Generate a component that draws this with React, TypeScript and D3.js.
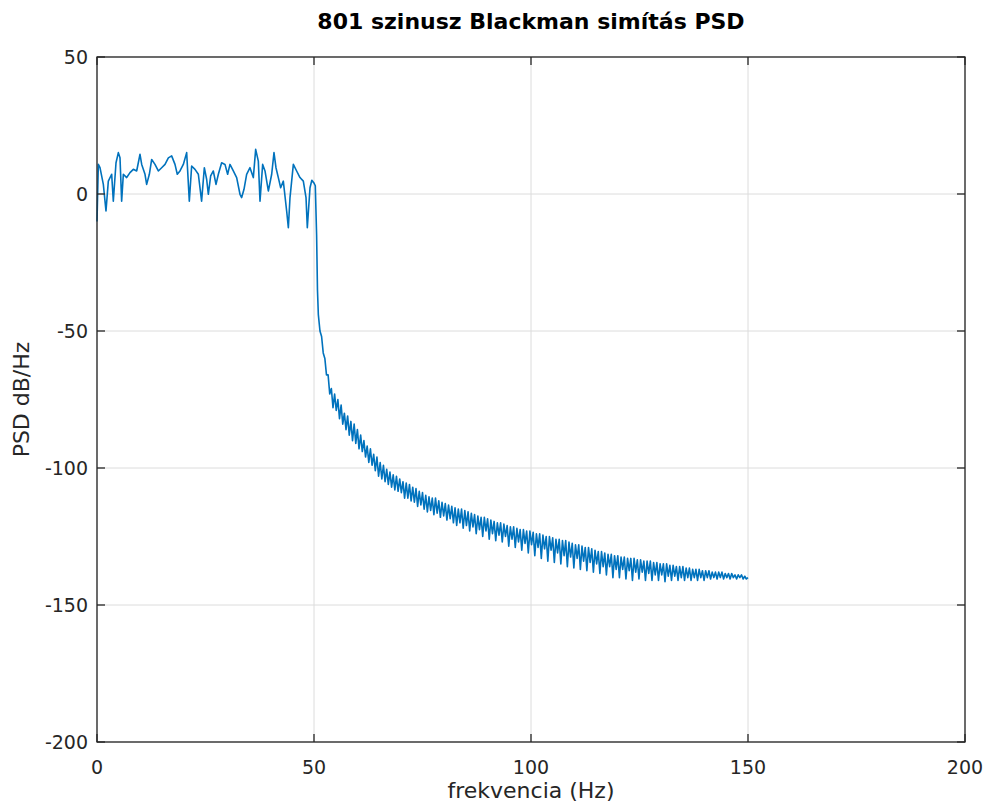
import React from "react";
import * as d3 from "d3";

const W = 986;
const H = 803;
const M = { left: 97, right: 21, top: 57, bottom: 61 };

const xTicks = [0, 50, 100, 150, 200];
const yTicks = [50, 0, -50, -100, -150, -200];

const titleText = "801 szinusz Blackman simítás PSD";
const xLabelText = "frekvencia (Hz)";
const yLabelText = "PSD dB/Hz";

// passband (irregular sampling)
const passFreq = [
  0, 0.31, 0.69, 1.46, 2.07, 2.61, 3.38, 3.76, 4.38, 4.92, 5.3, 5.68, 6.07, 6.84, 7.6, 8.37, 9.14, 9.91,
  10.3, 11.06, 11.44, 12.06, 12.6, 13.36, 14.13, 14.9, 15.67, 16.44, 17.2, 17.97, 18.5, 19.12, 19.89,
  20.66, 21.27, 21.81, 22.58, 23.35, 24.1, 24.73, 25.27, 25.65, 26.19, 26.8, 27.42, 27.96, 28.72, 29.49,
  30.1, 30.64, 31.41, 32.18, 32.95, 33.33, 33.87, 34.48, 35.25, 36.02, 36.56, 37.17, 37.56, 38.17, 38.71,
  39.48, 40.25, 40.78, 41.24, 41.78, 42.32, 42.93, 43.7, 44.09, 44.47, 45.24, 46.0, 46.77, 47.54, 48.16,
  48.46, 49.08, 49.5, 50.0, 50.3, 50.6, 50.8,
];
const passPsd = [
  -10, 10.8, 9.6, 3.5, -6.2, 4.7, 7.2, -2.6, 11.4, 15.1, 13.2, -2.6, 7.2, 6.0, 7.8, 9.0, 8.4, 14.5,
  10.8, 7.2, 3.5, 7.2, 12.6, 10.8, 8.4, 9.6, 10.8, 13.2, 13.9, 10.8, 7.2, 8.4, 10.8,
  15.1, -2.6, 10.2, 9.0, 7.2, -2.6, 9.6, 5.3, -0.1, 6.6, 8.4, 3.5, 7.2, 11.4, 10.8,
  7.2, 10.8, 8.4, 6.0, -0.1, -1.3, 1.7, 7.2, 9.6, 6.0, 16.3, 12.0, -2.6, 10.8, 8.4,
  1.1, 7.2, 15.1, 9.6, 6.0, 2.3, 4.7, -6.2, -12.3, -1.3, 10.8, 8.4, 6.0, 4.7, -1.3,
  -12.3, 2.3, 5.0, 4.0, 3.0, -15, -35,
];

// stopband, frequency bins of 0.375 Hz from 51 Hz to 150 Hz
const stopStart = 51;
const stopStep = 0.375;
const stopPsd = [
  -44, -50, -52, -58, -60, -66, -66, -73,
  -71, -78, -73, -79, -75, -82, -77, -84,
  -80, -86, -81, -88, -83, -90, -84, -91,
  -86, -93, -88, -94, -90, -96, -92, -98,
  -93, -99, -95, -101, -96, -103, -98, -104,
  -99, -105, -100.5, -106, -101.5, -107, -102.5, -108,
  -103, -108.5, -104, -109, -105, -111, -105.5, -111,
  -106, -112, -107, -112.5, -107.5, -114, -108.5, -113.5,
  -109, -115, -110, -116, -110.5, -115.5, -111, -117,
  -111, -116.5, -112, -118, -112.5, -117.5, -113, -119,
  -113.5, -118.5, -114, -120, -114.5, -121, -115, -120,
  -115, -122, -115.5, -121, -116, -123, -116.5, -121.5,
  -117, -124, -117.5, -122.5, -118, -125, -118, -123,
  -118.5, -126, -119, -124, -119.5, -126.5, -120, -124.5,
  -120, -127, -120.5, -125, -121, -128.5, -121.5, -126,
  -121.5, -129, -122, -127, -122.5, -130, -122.5, -127.5,
  -123, -131, -123, -128, -123.5, -132, -124, -129,
  -124, -133, -124.5, -129.5, -125, -134, -125, -130,
  -125.5, -134.5, -126, -131, -126, -135, -126.5, -132,
  -126.5, -136, -127, -132.5, -127.5, -136.5, -128, -133,
  -128, -137, -128.5, -134, -129, -137.5, -129, -134.5,
  -129.5, -138, -130, -135, -130.5, -138.5, -130.5, -136,
  -131, -139, -131.5, -136, -131.5, -140, -132, -137,
  -132, -140, -132.5, -137, -132.5, -140.5, -133, -137.5,
  -133, -141, -133, -138, -133.5, -140.5, -133.5, -138,
  -134, -141, -134, -138.5, -134, -141, -134.5, -139,
  -134.5, -141, -135, -139, -135, -141.5, -135, -139.5,
  -135.5, -141, -135.5, -139.5, -136, -141, -136, -140,
  -136, -141, -136.5, -140, -136.5, -141, -137, -140,
  -137, -141, -137, -140, -137.5, -141, -137.5, -140,
  -137.5, -140.5, -138, -140, -138, -140.5, -138, -140,
  -138, -140.5, -138.5, -140, -138.5, -140.5, -138.5, -140,
  -139, -140.5, -139, -140, -139, -140.5, -139.5, -140.5,
  -140,
];

const FONT = "'DejaVu Sans', sans-serif";

export default function App() {
  const x = d3.scaleLinear().domain([0, 200]).range([M.left, W - M.right]);
  const y = d3.scaleLinear().domain([-200, 50]).range([H - M.bottom, M.top]);

  const pts: [number, number][] = [];
  passFreq.forEach((f, i) => pts.push([f, passPsd[i]]));
  stopPsd.forEach((v, i) => pts.push([stopStart + i * stopStep, v]));

  const line = d3
    .line<[number, number]>()
    .x((d) => x(d[0]))
    .y((d) => y(d[1]));

  const x0 = M.left;
  const x1 = W - M.right;
  const y0 = M.top;
  const y1 = H - M.bottom;
  const tickLen = 8;
  const axisColor = "#262626";
  const gridColor = "#dcdcdc";

  return (
    <svg
      width={W}
      height={H}
      style={{ position: "absolute", left: 0, top: 0, background: "#fff" }}
      fontFamily={FONT}
    >
      <rect x={0} y={0} width={W} height={H} fill="#fff" />
      {xTicks.map((t) => (
        <line key={"gx" + t} x1={x(t)} x2={x(t)} y1={y0} y2={y1} stroke={gridColor} strokeWidth={1} />
      ))}
      {yTicks.map((t) => (
        <line key={"gy" + t} x1={x0} x2={x1} y1={y(t)} y2={y(t)} stroke={gridColor} strokeWidth={1} />
      ))}
      <path d={line(pts) || ""} fill="none" stroke="#0072BD" strokeWidth={1.6} strokeLinejoin="round" />
      <rect x={x0} y={y0} width={x1 - x0} height={y1 - y0} fill="none" stroke={axisColor} strokeWidth={1.3} />
      {xTicks.map((t) => (
        <g key={"tx" + t}>
          <line x1={x(t)} x2={x(t)} y1={y1} y2={y1 - tickLen} stroke={axisColor} strokeWidth={1.3} />
          <line x1={x(t)} x2={x(t)} y1={y0} y2={y0 + tickLen} stroke={axisColor} strokeWidth={1.3} />
          <text x={x(t)} y={y1 + 32} textAnchor="middle" fontSize={19} fill="#262626">
            {t}
          </text>
        </g>
      ))}
      {yTicks.map((t) => (
        <g key={"ty" + t}>
          <line x1={x0} x2={x0 + tickLen} y1={y(t)} y2={y(t)} stroke={axisColor} strokeWidth={1.3} />
          <line x1={x1} x2={x1 - tickLen} y1={y(t)} y2={y(t)} stroke={axisColor} strokeWidth={1.3} />
          <text x={x0 - 9} y={y(t) + 7} textAnchor="end" fontSize={19} fill="#262626">
            {t}
          </text>
        </g>
      ))}
      <text x={(x0 + x1) / 2} y={29} textAnchor="middle" fontSize={22} fontWeight="bold" fill="#000">
        {titleText}
      </text>
      <text x={(x0 + x1) / 2} y={798} textAnchor="middle" fontSize={22} fill="#262626">
        {xLabelText}
      </text>
      <text
        transform={`translate(29, ${(y0 + y1) / 2}) rotate(-90)`}
        textAnchor="middle"
        fontSize={22}
        fill="#262626"
      >
        {yLabelText}
      </text>
    </svg>
  );
}
